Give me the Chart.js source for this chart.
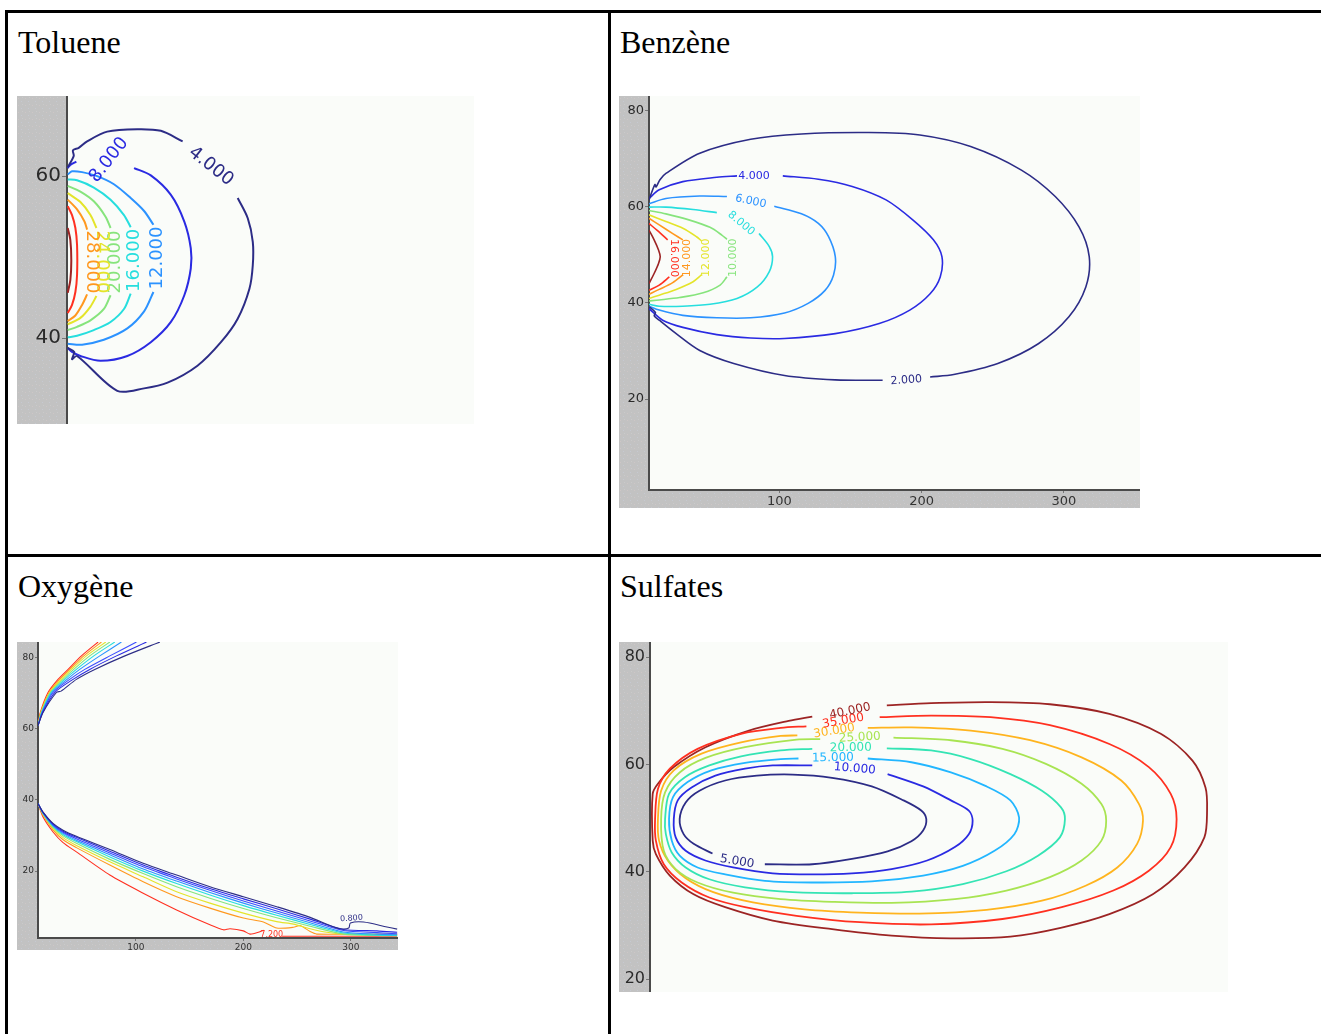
<!DOCTYPE html>
<html>
<head>
<meta charset="utf-8">
<script src="https://cdn.jsdelivr.net/npm/chart.js@4.4.1/dist/chart.umd.min.js"></script>
<style>
  html, body { margin: 0; padding: 0; background: #fff; }
  body { position: relative; width: 1321px; height: 1034px; overflow: hidden; }
  .rule { position: absolute; background: #000; }
  .title { position: absolute; font-family: "Liberation Serif", "Times New Roman", serif; font-size: 32px; line-height: 32px; color: #000; white-space: nowrap; }
  canvas { position: absolute; display: block; }
</style>
</head>
<body>
<div class="rule" style="left:5px;top:10px;width:1316px;height:3px"></div>
<div class="rule" style="left:5px;top:10px;width:3px;height:1024px"></div>
<div class="rule" style="left:608px;top:10px;width:3px;height:1024px"></div>
<div class="rule" style="left:5px;top:554px;width:1316px;height:3px"></div>

<div class="title" style="left:18px;top:26px">Toluene</div>
<div class="title" style="left:620px;top:26px">Benzène</div>
<div class="title" style="left:18px;top:570px">Oxygène</div>
<div class="title" style="left:620px;top:570px">Sulfates</div>

<canvas id="toluene" width="457" height="328" style="left:17px;top:96px"></canvas>
<canvas id="benzene" width="521" height="412" style="left:619px;top:96px"></canvas>
<canvas id="oxygene" width="381" height="308" style="left:17px;top:642px"></canvas>
<canvas id="sulfates" width="609" height="350" style="left:619px;top:642px"></canvas>

<script>
// ---------- colour scale (jet-like) ----------
const NAVY = '#2c2c86', BLUE = '#2a2ae2', ROYAL = '#3a4cff', AZURE = '#2b92ff', SKY = '#22b6ff',
      CYAN = '#26dede', AQUA = '#34e4b4', GREEN = '#86e47c', LIME = '#a8e452', YELLOW = '#e4e42a',
      GOLD = '#ffb41e', ORANGE = '#ff981e', RED = '#ff3020', DARKRED = '#9c2424';

// ---------- Toluene ----------
const tolueneYTicks = [40, 60];
const tol4 = [
  [[8.3,61.1],[10.8,62.5],[10.5,63.2],[12.9,63.5],[16.4,64.3],[24.8,65.5],[37.4,65.8],[47.2,65.6],[56.3,64.3]],
  [[79.3,57.3],[83.5,54.8],[85.6,51.9],[85.6,49.0],[84.2,46.1],[79.3,42.4],[72.3,39.5],[62.5,36.6],[50.0,34.5],[40.2,33.8],[29.0,33.5],[12.2,37.8],[10.1,37.4],[11.0,38.3],[8.3,38.8]]
];
const tol8 = [
  [[8.3,61.0],[9.4,61.4],[11.9,61.8]],
  [[36.0,61.0],[43.0,60.1],[51.4,57.7],[57.0,54.4],[59.7,51.1],[59.7,48.6],[57.0,45.3],[51.4,42.0],[43.0,39.5],[33.2,37.8],[22.0,37.2],[13.6,37.8],[10.1,38.3],[8.3,38.8]]
];
const tol12 = [
  [[8.3,60.2],[10.1,60.6],[14.3,60.5],[20.6,60.0],[27.6,59.0],[34.6,57.3],[40.2,55.7],[44.1,54.0]],
  [[44.1,45.7],[40.2,43.3],[33.2,41.2],[23.4,39.8],[14.3,39.2],[8.3,39.3]]
];
const tol16 = [
  [[8.3,59.6],[12.2,59.5],[19.2,58.6],[26.2,57.1],[31.8,55.2],[34.6,53.7]],
  [[34.6,45.5],[31.8,43.6],[26.2,42.0],[19.2,41.0],[12.2,40.3],[8.3,40.1]]
];
const tol20 = [
  [[8.3,58.8],[13.6,58.1],[19.2,56.9],[24.1,55.0],[26.2,53.6]],
  [[26.2,45.3],[23.4,43.6],[17.8,42.2],[12.2,41.4],[8.3,41.0]]
];
const tol24 = [
  [[8.3,57.9],[13.6,56.8],[17.8,55.2],[20.3,53.6]],
  [[20.3,45.2],[17.8,43.9],[13.6,42.5],[8.3,41.7]]
];
const tol28 = [
  [[8.3,57.1],[12.2,55.9],[15.3,54.4],[16.4,53.4]],
  [[16.4,45.4],[14.3,44.1],[11.5,42.8],[8.3,42.1]]
];
const tol32 = [[[8.3,56.3],[10.1,55.2],[11.5,53.6],[12.2,51.5],[12.2,47.8],[11.5,45.7],[10.1,44.1],[8.3,43.1]]];
const tol36 = [[[8.3,53.6],[9.4,52.1],[9.8,49.6],[9.4,47.2],[8.3,45.6]]];
const tolueneLabels = [
  { text: '4.000',  x: 68.1, y: 61.2, rot: 38,  color: NAVY },
  { text: '8.000',  x: 25.5, y: 62.0, rot: -52, color: BLUE },
  { text: '12.000', x: 45.8, y: 49.9, rot: -90, color: AZURE },
  { text: '16.000', x: 36.0, y: 49.6, rot: -90, color: CYAN },
  { text: '20.000', x: 28.3, y: 49.4, rot: -90, color: GREEN },
  { text: '24.000', x: 22.3, y: 49.4, rot: 90,  color: YELLOW },
  { text: '28.000', x: 18.1, y: 49.4, rot: 90,  color: ORANGE }
];

// ---------- Benzène ----------
const benzeneXTicks = [100, 200, 300];
const benzeneYTicks = [20, 40, 60, 80];
const bz2 = [
  [[8.3,61.4],[12.4,64.6],[13.3,64.1],[16.0,65.6],[20.2,66.9],[44.0,71.1],[79.8,74.0],[115.5,75.1],[163.0,75.4],[198.8,74.9],[234.5,72.5],[270.2,67.6],[294.0,62.1],[310.7,55.8],[317.9,49.6],[315.5,43.3],[303.6,37.1],[282.1,31.5],[253.6,27.4],[222.6,25.1],[206.0,24.6]],
  [[172.6,23.9],[139.3,24.0],[103.6,24.9],[67.9,27.4],[44.0,30.1],[27.4,33.6],[15.5,36.4],[12.0,37.3],[12.8,38.0],[8.3,39.2]]
];
const bz4 = [
  [[8.3,61.7],[15.5,63.5],[32.1,65.2],[56.0,66.1],[70.2,66.4]],
  [[102.4,66.4],[127.4,65.7],[151.2,64.2],[175.0,61.4],[194.0,57.2],[208.3,53.1],[214.3,49.6],[213.1,45.4],[206.0,41.9],[191.7,38.5],[170.2,35.7],[139.3,33.6],[103.6,32.6],[79.8,32.7],[56.0,33.4],[32.1,34.9],[17.9,36.4],[8.3,38.8]]
];
const bz6 = [
  [[8.3,60.6],[20.2,61.7],[44.0,62.2],[63.1,62.1]],
  [[96.4,60.1],[115.5,58.5],[127.4,56.5],[134.5,53.8],[139.3,49.6],[138.1,45.8],[132.1,42.6],[120.2,39.9],[103.6,37.9],[79.8,36.9],[56.0,36.9],[32.1,37.4],[15.5,38.5],[8.3,39.3]]
];
const bz8 = [
  [[8.3,59.9],[20.2,59.9],[39.3,59.4],[56.0,58.75]],
  [[85.7,54.4],[92.9,51.7],[95.2,49.6],[92.9,46.5],[84.5,43.3],[70.2,40.9],[51.2,39.7],[32.1,39.3],[15.5,39.3],[8.3,39.7]]
];
const bz10 = [
  [[8.3,59.2],[20.2,58.5],[36.9,57.2],[51.2,55.7],[59.5,54.1],[63.1,53.2]],
  [[63.1,45.4],[58.3,43.7],[46.4,42.1],[29.8,41.1],[15.5,40.6],[8.3,40.4]]
];
const bz12 = [
  [[8.3,58.3],[20.2,56.9],[32.1,55.5],[41.7,53.75],[45.2,52.9]],
  [[45.2,45.8],[39.3,44.4],[27.4,42.8],[15.5,41.6],[8.3,40.9]]
];
const bz14 = [
  [[8.3,57.6],[15.5,56.2],[25.0,54.4],[32.1,53.1]],
  [[32.1,45.8],[25.0,44.2],[15.5,42.8],[8.3,41.8]]
];
const bz16 = [
  [[8.3,56.5],[14.3,55.0],[21.4,53.1]],
  [[22.6,45.4],[15.5,43.7],[8.3,42.6]]
];
const bz18 = [[[8.3,55.1],[11.9,53.1],[15.0,51.0],[16.2,49.6],[15.0,48.2],[11.9,46.1],[8.3,44.0]]];
const benzeneLabels = [
  { text: '2.000',  x: 189.3, y: 23.9, rot: -4,  color: NAVY },
  { text: '4.000',  x: 82.1,  y: 66.4, rot: 0,   color: BLUE },
  { text: '6.000',  x: 79.8,  y: 61.1, rot: 12,  color: AZURE },
  { text: '8.000',  x: 73.1,  y: 56.5, rot: 40,  color: CYAN },
  { text: '10.000', x: 67.4,  y: 49.4, rot: -90, color: GREEN },
  { text: '12.000', x: 48.3,  y: 49.4, rot: -90, color: YELLOW },
  { text: '14.000', x: 35.2,  y: 49.3, rot: -90, color: ORANGE },
  { text: '16.000', x: 25.5,  y: 49.3, rot: 90,  color: RED }
];

// ---------- Oxygène ----------
const oxygeneXTicks = [100, 200, 300];
const oxygeneYTicks = [20, 40, 60, 80];
const ox08 = [
  [[9,60.9],[13.7,64.6],[26.1,70.2],[30.5,70.6],[44.7,73.9],[61.8,76.7],[89.8,80.5],[122.4,84.4]],
  [[9,39.0],[13.7,36.6],[23.0,33.4],[32.3,31.5],[44.7,29.8],[75.8,26.1],[106.8,22.2],[137.9,18.9],[168.9,15.6],[200,12.8],[231,10.0],[262.1,7.0],[280.7,4.7],[290,3.8],[298,4.0],[299.5,5.4],[311.8,5.7],[333.5,4.3],[343,3.7]]
];
const ox16 = [
  [[9,60.9],[13.4,64.6],[24.5,70.2],[41.6,73.9],[57.1,76.7],[82.0,80.5],[109.9,84.4]],
  [[9,39.0],[13.7,36.5],[23.0,33.2],[32.3,31.2],[44.7,29.5],[75.8,25.6],[106.8,21.7],[137.9,18.3],[168.9,15.1],[200,12.2],[231,9.4],[262.1,6.5],[293.2,3.6],[324.2,3.2],[343,2.8]]
];
const ox24 = [
  [[9,60.9],[13.0,64.6],[23.0,70.2],[38.5,73.9],[52.5,76.7],[75.8,80.5],[100.6,84.4]],
  [[9,39.0],[13.7,36.4],[23.0,33.0],[32.3,30.9],[44.7,29.1],[75.8,25.1],[106.8,21.2],[137.9,17.8],[168.9,14.6],[200,11.6],[231,8.8],[262.1,6.0],[293.2,3.3],[324.2,2.7],[343,2.4]]
];
const ox32 = [
  [[9,60.9],[12.7,64.6],[22.0,70.2],[36.0,73.9],[47.8,76.7],[66.5,80.5],[86.6,84.4]],
  [[9,39.0],[13.7,36.3],[23.0,32.8],[32.3,30.6],[44.7,28.7],[75.8,24.6],[106.8,20.6],[137.9,17.2],[168.9,14.0],[200,11.0],[231,8.2],[262.1,5.5],[293.2,2.9],[324.2,2.3],[343,2.1]]
];
const ox40 = [
  [[9,60.9],[12.4,64.6],[21.1,70.2],[33.9,73.9],[44.7,76.7],[60.9,80.5],[80.4,84.4]],
  [[9,39.0],[13.7,36.2],[23.0,32.6],[32.3,30.3],[44.7,28.3],[75.8,24.0],[106.8,20.0],[137.9,16.5],[168.9,13.3],[200,10.3],[231,7.6],[262.1,5.0],[293.2,2.6],[324.2,2.0],[343,1.9]]
];
const ox48 = [
  [[9,60.9],[12.1,64.6],[20.5,70.2],[32.3,73.9],[42.2,76.7],[57.1,80.5],[75.8,84.4]],
  [[9,39.0],[13.7,36.1],[23.0,32.3],[32.3,29.9],[44.7,27.8],[75.8,23.3],[106.8,19.3],[137.9,15.6],[168.9,12.4],[200,9.5],[231,6.9],[262.1,4.5],[293.2,2.3],[324.2,1.9],[343,1.8]]
];
const ox56 = [
  [[9,60.9],[11.8,64.6],[19.9,70.2],[30.7,73.9],[40.1,76.7],[54.0,80.5],[72.0,84.4]],
  [[9,39.0],[13.7,35.9],[23.0,32.0],[32.3,29.4],[44.7,27.2],[75.8,22.6],[106.8,18.4],[137.9,14.2],[168.9,11.0],[200,8.2],[231,5.8],[246.6,5.1],[262.1,3.8],[277.6,2.8],[293.2,2.3],[343,2.2]]
];
const ox64 = [
  [[9,60.9],[11.5,64.6],[19.3,70.2],[29.2,73.9],[38.5,76.7],[51.6,80.5],[68.0,84.4]],
  [[9,39.0],[13.7,35.7],[23.0,31.6],[32.3,28.8],[44.7,26.6],[75.8,21.7],[106.8,17.0],[137.9,12.8],[168.9,9.6],[200,6.8],[218.6,5.7],[231,4.0],[246.6,4.2],[252.8,4.7],[262.1,3.0],[268.3,2.3],[343,2.3]]
];
const ox72 = [
  [[9,60.9],[11.2,64.6],[18.3,70.2],[27.6,73.9],[37.0,76.7],[49.4,80.5],[64.9,84.4]],
  [[9,39.0],[13.7,35.2],[23.0,31.0],[32.3,28.0],[44.7,25.4],[75.8,18.9],[106.8,13.8],[137.9,9.1],[168.9,4.9],[181.4,3.5],[187.6,3.8],[200,3.2],[206.2,2.3],[214,2.8],[219,3.4]],
  [[236,1.7],[343,1.7]]
];
const oxygeneLabels = [
  { text: '0.800', x: 300.5, y: 6.7, rot: -4, color: NAVY },
  { text: '7.200', x: 226.4, y: 2.1, rot: 0,  color: RED }
];

// ---------- Sulfates ----------
const sulfatesYTicks = [20, 40, 60, 80];
const sf05 = [[[47.4,43.4],[35.5,45.2],[29.2,47.0],[26.7,49.8],[30.5,52.9],[39.2,55.1],[55.4,57.0],[75.4,57.9],[97.9,58.1],[122.8,57.5],[147.8,55.9],[167.8,53.3],[179,51.4],[182.2,49.8],[180.2,47.7],[172.8,45.7],[157.8,43.8],[135.3,42.4],[110.3,41.4],[80.4,41.4]]];
const sf10 = [[[157.8,58.2],[180.2,55.9],[197.7,53.3],[209,51.4],[211.4,49.5],[209,47.0],[200.2,44.6],[182.7,42.1],[160.3,40.5],[135.3,39.7],[110.3,39.5],[85.4,39.7],[60.4,40.8],[42.9,42.1],[30.5,43.9],[24.2,46.4],[23.0,49.8],[25.5,53.3],[34.2,55.7],[49.2,57.9],[67.9,59.2],[85.4,59.8],[110.3,59.8]]];
const sf15 = [[[145.3,61.1],[172.8,60.4],[197.7,58.5],[220.2,55.9],[235.2,53.3],[240.7,50.1],[237.7,47.0],[225.2,43.9],[205.2,41.1],[180.2,39.3],[147.8,38.2],[110.3,38.0],[80.4,38.3],[55.4,39.5],[38,40.8],[26.7,43.0],[21.7,45.8],[20,49.8],[22.5,53.9],[31.7,56.7],[46.7,58.9],[67.9,60.3],[90.4,61.0],[101.6,61.1]]];
const sf20 = [[[157.3,63.0],[185.2,62.6],[210.2,61.0],[235.2,58.2],[255.1,55.1],[267.1,52.0],[269.6,49.8],[266.4,46.4],[252.6,43.0],[232.7,40.1],[205.2,37.7],[172.8,36.3],[135.3,36.0],[97.9,36.2],[67.9,37.1],[45.4,38.6],[30.5,40.8],[21.7,43.6],[18,47.0],[17.5,49.8],[20,54.5],[30,57.6],[45.4,59.8],[65.4,61.5],[90.4,62.6],[110.3,62.9]]];
const sf25 = [[[161.5,65.0],[197.7,64.5],[230.2,62.9],[257.6,60.1],[280.1,56.4],[292.6,52.6],[295.6,49.5],[292.6,45.8],[280.1,42.1],[260.1,39.0],[232.7,36.5],[200.2,34.9],[160.3,34.2],[122.8,34.4],[90.4,34.9],[60.4,36.1],[38,38.0],[24.2,40.5],[16.7,43.9],[15,49.8],[17.5,54.8],[26.7,58.5],[43,61.2],[67.9,63.2],[100.4,64.6],[115.3,64.7]]];
const sf30 = [[[145.3,66.8],[172.8,66.9],[210.2,66.3],[247.6,64.5],[280.1,61.3],[305.1,57.0],[316.3,52.6],[318.8,49.5],[315.1,45.2],[302.6,40.8],[282.6,37.4],[255.1,34.6],[220.2,32.9],[177.7,32.2],[140.3,32.4],[105.4,33.0],[72.9,34.3],[47.9,36.2],[30.5,38.8],[19.2,42.1],[13.7,45.8],[13,49.8],[15,55.1],[23,58.9],[40.5,62.0],[65.4,64.1],[90.4,65.3],[100.9,65.4]]];
const sf35 = [[[152.8,68.8],[185.2,69.1],[222.7,68.8],[260.1,67.3],[297.6,63.8],[322.5,59.5],[336.3,54.5],[340,49.8],[336.3,44.6],[322.5,40.2],[300.1,36.5],[267.6,33.4],[230.2,31.2],[185.2,30.2],[140.3,30.6],[100.4,31.8],[67.9,33.4],[45.4,35.2],[28,38.0],[16.7,41.4],[11.7,45.8],[11.2,49.8],[13,55.4],[20.5,59.2],[38,62.9],[65.4,65.7],[90.4,66.8],[106.6,67.1]]];
const sf40 = [[[157.3,71.0],[185.2,71.4],[222.7,71.6],[260.1,71.2],[297.6,69.4],[330,65.7],[350,60.7],[358.2,55.7],[359.2,51.4],[357.5,46.4],[345,40.8],[325,35.8],[297.6,32.1],[267.6,29.6],[235.2,27.9],[197.7,27.6],[160.3,28.1],[122.8,29.3],[85.4,30.9],[55.4,33.4],[35.5,35.8],[20.5,39.3],[11.7,43.3],[9.7,45.8],[9.7,54.5],[13,56.4],[23,59.5],[43,63.2],[70.4,66.3],[95.4,68.1],[110.3,68.9]]];
const sulfatesLabels = [
  { text: '5.000',  x: 62.9,  y: 41.9, rot: 10,  color: NAVY },
  { text: '10.000', x: 137.1, y: 59.2, rot: 5,   color: BLUE },
  { text: '15.000', x: 123.3, y: 61.2, rot: -1,  color: SKY },
  { text: '20.000', x: 134.6, y: 63.1, rot: -1,  color: AQUA },
  { text: '25.000', x: 140.3, y: 65.0, rot: -3,  color: LIME },
  { text: '30.000', x: 124.1, y: 66.2, rot: -9,  color: GOLD },
  { text: '35.000', x: 129.8, y: 68.1, rot: -10, color: RED },
  { text: '40.000', x: 134.1, y: 69.9, rot: -12, color: DARKRED }
];

// ---------- drawing helpers ----------
function stripFill(ctx) {
  const tile = document.createElement('canvas');
  tile.width = 7; tile.height = 7;
  const t = tile.getContext('2d');
  t.fillStyle = '#c2c2c2'; t.fillRect(0, 0, 7, 7);
  t.fillStyle = '#cec6c6'; t.fillRect(1, 2, 1, 1);
  t.fillStyle = '#c6c9d1'; t.fillRect(4, 5, 1, 1);
  t.fillStyle = '#cacaca'; t.fillRect(5, 1, 1, 1);
  return ctx.createPattern(tile, 'repeat');
}

const panelPaint = {
  id: 'panelPaint',
  beforeDraw(chart) {
    const { ctx, chartArea: a, width, height } = chart;
    ctx.save();
    ctx.fillStyle = stripFill(ctx);
    ctx.fillRect(0, 0, width, height);
    ctx.fillStyle = '#fafcf9';
    ctx.fillRect(a.left, a.top, a.right - a.left, a.bottom - a.top);
    ctx.restore();
  },
  afterDatasetsDraw(chart, args, opts) {
    const { ctx, chartArea: a } = chart;
    const xs = chart.scales.x, ys = chart.scales.y;
    ctx.save();
    ctx.beginPath();
    ctx.rect(a.left, a.top, a.right - a.left, a.bottom - a.top);
    ctx.clip();
    ctx.font = opts.font;
    ctx.textAlign = 'center';
    ctx.textBaseline = 'middle';
    (opts.labels || []).forEach(l => {
      ctx.save();
      ctx.translate(xs.getPixelForValue(l.x), ys.getPixelForValue(l.y));
      ctx.rotate(l.rot * Math.PI / 180);
      ctx.fillStyle = l.color;
      ctx.fillText(l.text, 0, 0);
      ctx.restore();
    });
    ctx.restore();
  }
};

function buildPanel(id, p) {
  const datasets = [];
  p.contours.forEach(c => {
    c.segs.forEach(seg => {
      datasets.push({
        data: seg.map(([x, y]) => ({ x, y })),
        showLine: true,
        borderColor: c.color,
        backgroundColor: c.color,
        borderWidth: p.lineWidth,
        pointRadius: 0,
        pointHoverRadius: 0,
        tension: p.tension,
        fill: false
      });
    });
  });

  const tickFont = { family: 'DejaVu Sans', size: p.tickSize };
  new Chart(document.getElementById(id), {
    type: 'scatter',
    data: { datasets },
    options: {
      responsive: false,
      devicePixelRatio: 1,
      animation: false,
      events: [],
      layout: { padding: 0, autoPadding: false },
      plugins: {
        legend: { display: false },
        tooltip: { enabled: false },
        panelPaint: { labels: p.labels, font: p.labelFont }
      },
      scales: {
        x: {
          type: 'linear',
          min: p.xMin, max: p.xMax,
          display: p.xTicks.length > 0,
          afterBuildTicks: s => { s.ticks = p.xTicks.map(v => ({ value: v })); },
          afterFit: s => { s.height = p.axisH; s.paddingLeft = 0; s.paddingRight = 0; },
          grid: { drawOnChartArea: false, drawTicks: true, tickLength: 3, color: '#777', lineWidth: 1 },
          border: { display: true, color: '#4a4a4a', width: 2 },
          ticks: { font: tickFont, color: '#333', padding: 1, maxRotation: 0, autoSkip: false }
        },
        y: {
          type: 'linear',
          min: p.yMin, max: p.yMax,
          afterBuildTicks: s => { s.ticks = p.yTicks.map(v => ({ value: v })); },
          afterFit: s => { s.width = p.axisW; s.paddingTop = 0; s.paddingBottom = 0; },
          grid: { drawOnChartArea: false, drawTicks: true, tickLength: p.tickLen, color: '#777', lineWidth: 1 },
          border: { display: true, color: '#4a4a4a', width: 2 },
          ticks: { font: tickFont, color: '#2a2a2a', padding: 1, autoSkip: false }
        }
      }
    },
    plugins: [panelPaint]
  });
}

buildPanel('toluene', {
  xMin: 8, xMax: 178, yMin: 29.4, yMax: 69.9,
  xTicks: [], yTicks: tolueneYTicks,
  axisW: 50, axisH: 0, tickSize: 20, tickLen: 5,
  lineWidth: 2, tension: 0.3,
  labelFont: '18px "DejaVu Sans"', labels: tolueneLabels,
  contours: [
    { color: NAVY, segs: tol4 }, { color: BLUE, segs: tol8 }, { color: AZURE, segs: tol12 },
    { color: CYAN, segs: tol16 }, { color: GREEN, segs: tol20 }, { color: YELLOW, segs: tol24 },
    { color: ORANGE, segs: tol28 }, { color: RED, segs: tol32 }, { color: DARKRED, segs: tol36 }
  ]
});

buildPanel('benzene', {
  xMin: 8.3, xMax: 353.6, yMin: 1.1, yMax: 83,
  xTicks: benzeneXTicks, yTicks: benzeneYTicks,
  axisW: 30, axisH: 18, tickSize: 13, tickLen: 4,
  lineWidth: 1.6, tension: 0.3,
  labelFont: '11px "DejaVu Sans"', labels: benzeneLabels,
  contours: [
    { color: NAVY, segs: bz2 }, { color: BLUE, segs: bz4 }, { color: AZURE, segs: bz6 },
    { color: CYAN, segs: bz8 }, { color: GREEN, segs: bz10 }, { color: YELLOW, segs: bz12 },
    { color: ORANGE, segs: bz14 }, { color: RED, segs: bz16 }, { color: DARKRED, segs: bz18 }
  ]
});

buildPanel('oxygene', {
  xMin: 9, xMax: 343.8, yMin: 1.2, yMax: 84.4,
  xTicks: oxygeneXTicks, yTicks: oxygeneYTicks,
  axisW: 21, axisH: 12, tickSize: 9, tickLen: 3,
  lineWidth: 1.1, tension: 0.25,
  labelFont: '8px "DejaVu Sans"', labels: oxygeneLabels,
  contours: [
    { color: NAVY, segs: ox08 }, { color: BLUE, segs: ox16 }, { color: ROYAL, segs: ox24 },
    { color: AZURE, segs: ox32 }, { color: CYAN, segs: ox40 }, { color: GREEN, segs: ox48 },
    { color: YELLOW, segs: ox56 }, { color: ORANGE, segs: ox64 }, { color: RED, segs: ox72 }
  ]
});

buildPanel('sulfates', {
  xMin: 8, xMax: 372.4, yMin: 17.6, yMax: 82.8,
  xTicks: [], yTicks: sulfatesYTicks,
  axisW: 31, axisH: 0, tickSize: 16, tickLen: 4,
  lineWidth: 1.8, tension: 0.3,
  labelFont: '12px "DejaVu Sans"', labels: sulfatesLabels,
  contours: [
    { color: NAVY, segs: sf05 }, { color: BLUE, segs: sf10 }, { color: SKY, segs: sf15 },
    { color: AQUA, segs: sf20 }, { color: LIME, segs: sf25 }, { color: GOLD, segs: sf30 },
    { color: RED, segs: sf35 }, { color: DARKRED, segs: sf40 }
  ]
});
</script>
</body>
</html>
